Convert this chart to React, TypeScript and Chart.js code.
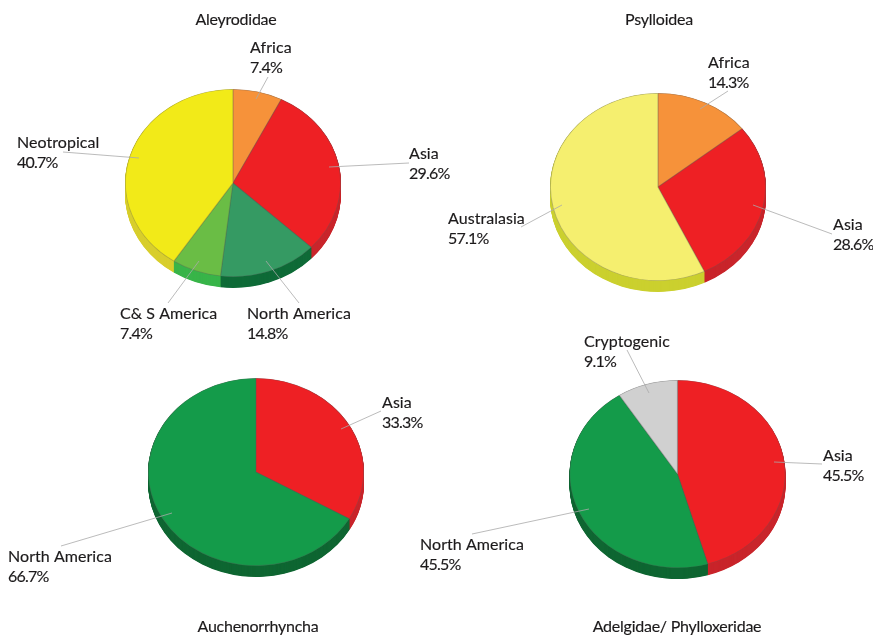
import React, { useEffect, useRef } from "react";
import { Chart, registerables } from "chart.js";

Chart.register(...registerables);

const WIDTH = 873;
const HEIGHT = 636;
const RADIUS_X = 108;
const RADIUS_Y = 94;
const DEPTH = 11;
const FONT = '16px Lato, "Open Sans", sans-serif';
const TEXT = "#1c1a1b";
const LEADER = "#a9a9a9";

const aleyCategories = ["Africa", "Asia", "North America", "C& S America", "Neotropical"];
const aleyValues = [7.4, 29.6, 14.8, 7.4, 40.7];
const aleyColors = ["#f6923a", "#ee2024", "#359a63", "#6abd45", "#f2ea18"];
const aleySides = ["#e08030", "#c9252b", "#0f6b38", "#39b54a", "#d8ce2c"];

const psylCategories = ["Africa", "Asia", "Australasia"];
const psylValues = [14.3, 28.6, 57.1];
const psylColors = ["#f6923a", "#ee2024", "#f5ef6f"];
const psylSides = ["#e08030", "#c9252b", "#cbd02f"];

const auchCategories = ["Asia", "North America"];
const auchValues = [33.3, 66.7];
const auchColors = ["#ee2024", "#149b4a"];
const auchSides = ["#c9252b", "#0f6632"];

const adelCategories = ["Asia", "North America", "Cryptogenic"];
const adelValues = [45.5, 45.5, 9.1];
const adelColors = ["#ee2024", "#149b4a", "#d0d0d0"];
const adelSides = ["#c9252b", "#0f6632", "#b0b0b0"];

type Layout = {
  title: string;
  titleX: number;
  titleY: number;
  cx: number;
  cy: number;
  labels: [number, number][];
  leaders: [number, number, number, number][];
};

const aleyLayout: Layout = {
  title: "Aleyrodidae", titleX: 236, titleY: 25, cx: 233, cy: 183,
  labels: [[250, 53], [409, 159], [247, 319], [120, 319], [17, 148]],
  leaders: [[268, 77, 256, 99], [409, 163, 329, 167], [299, 303, 266, 261], [168, 303, 199, 261], [63, 152, 139, 158]],
};
const psylLayout: Layout = {
  title: "Psylloidea", titleX: 659, titleY: 25, cx: 658, cy: 187,
  labels: [[708, 68], [833, 230], [448, 224]],
  leaders: [[728, 91, 700, 109], [832, 234, 753, 205], [521, 227, 562, 205]],
};
const auchLayout: Layout = {
  title: "Auchenorrhyncha", titleX: 258, titleY: 632, cx: 256, cy: 472,
  labels: [[382, 408], [8, 562]],
  leaders: [[381, 411, 341, 429], [61, 546, 172, 513]],
};
const adelLayout: Layout = {
  title: "Adelgidae/ Phylloxeridae", titleX: 677, titleY: 632, cx: 677.5, cy: 474,
  labels: [[823, 461], [420, 550], [584, 347]],
  leaders: [[822, 464, 774, 462], [472, 534, 589, 509], [627, 350, 649, 393]],
};

type PieProps = {
  categories: string[];
  values: number[];
  colors: string[];
  sides: string[];
  layout: Layout;
};

function Pie({ categories, values, colors, sides, layout }: PieProps) {
  const ref = useRef<HTMLCanvasElement>(null);

  useEffect(() => {
    const { cx, cy } = layout;
    const squash = {
      id: "squash",
      beforeDatasetsDraw(chart: any) {
        const ctx = chart.ctx;
        const arcs = chart.getDatasetMeta(0).data;
        for (let d = DEPTH; d > 0; d -= 0.5) {
          ctx.save();
          ctx.translate(0, d);
          ctx.translate(cx, cy);
          ctx.scale(1, RADIUS_Y / RADIUS_X);
          ctx.translate(-cx, -cy);
          arcs.forEach((arc: any, i: number) => {
            const p = arc.getProps(["x", "y", "startAngle", "endAngle", "outerRadius"], true);
            ctx.beginPath();
            ctx.moveTo(p.x, p.y);
            ctx.arc(p.x, p.y, p.outerRadius, p.startAngle, p.endAngle);
            ctx.closePath();
            ctx.fillStyle = sides[i];
            ctx.fill();
          });
          ctx.restore();
        }
        ctx.save();
        ctx.translate(cx, cy);
        ctx.scale(1, RADIUS_Y / RADIUS_X);
        ctx.translate(-cx, -cy);
      },
      afterDatasetsDraw(chart: any) {
        const ctx = chart.ctx;
        ctx.restore();
        ctx.save();
        ctx.strokeStyle = LEADER;
        ctx.lineWidth = 0.8;
        layout.leaders.forEach(([x1, y1, x2, y2]) => {
          ctx.beginPath();
          ctx.moveTo(x1, y1);
          ctx.lineTo(x2, y2);
          ctx.stroke();
        });
        ctx.fillStyle = TEXT;
        ctx.strokeStyle = TEXT;
        ctx.lineWidth = 0.15;
        ctx.font = FONT;
        ctx.textBaseline = "alphabetic";
        ctx.textAlign = "left";
        const put = (s: string, x: number, y: number) => {
          ctx.fillText(s, x, y);
          ctx.strokeText(s, x, y);
        };
        categories.forEach((name, i) => {
          const [x, y] = layout.labels[i];
          ctx.letterSpacing = "0.05px";
          put(name, x, y);
          ctx.letterSpacing = "-0.8px";
          put(`${values[i].toFixed(1)}%`, x, y + 19.5);
        });
        ctx.letterSpacing = "-0.25px";
        ctx.textAlign = "center";
        put(layout.title, layout.titleX, layout.titleY);
        ctx.restore();
      },
    };

    const chart = new Chart(ref.current!, {
      type: "pie",
      data: {
        labels: categories,
        datasets: [
          {
            data: values,
            backgroundColor: colors,
            borderColor: "rgba(90,90,90,0.35)",
            borderWidth: 0.6,
            borderAlign: "inner",
            clip: false,
          } as any,
        ],
      },
      options: {
        responsive: false,
        animation: false,
        events: [],
        layout: {
          padding: {
            left: cx - RADIUS_X,
            right: WIDTH - cx - RADIUS_X,
            top: cy - RADIUS_X,
            bottom: HEIGHT - cy - RADIUS_X,
          },
        },
        plugins: { legend: { display: false }, tooltip: { enabled: false }, title: { display: false } },
      },
      plugins: [squash],
    });
    return () => chart.destroy();
  }, []);

  return (
    <div style={{ position: "absolute", left: 0, top: 0, width: WIDTH, height: HEIGHT, filter: "blur(0.3px)" }}>
      <canvas ref={ref} width={WIDTH} height={HEIGHT} />
    </div>
  );
}

export default function App() {
  return (
    <div
      style={{
        position: "absolute",
        left: 0,
        top: 0,
        width: WIDTH,
        height: HEIGHT,
        background: "#fff",
        overflow: "hidden",
      }}
    >
      <Pie categories={aleyCategories} values={aleyValues} colors={aleyColors} sides={aleySides} layout={aleyLayout} />
      <Pie categories={psylCategories} values={psylValues} colors={psylColors} sides={psylSides} layout={psylLayout} />
      <Pie categories={auchCategories} values={auchValues} colors={auchColors} sides={auchSides} layout={auchLayout} />
      <Pie categories={adelCategories} values={adelValues} colors={adelColors} sides={adelSides} layout={adelLayout} />
    </div>
  );
}
